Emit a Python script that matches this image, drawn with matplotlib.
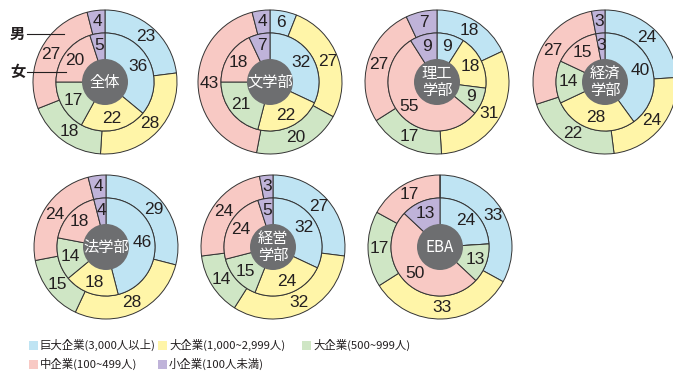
import matplotlib
matplotlib.use("Agg")
import matplotlib.pyplot as plt
from matplotlib.patches import Circle, Rectangle
import math

plt.rcParams['font.family'] = ['Noto Sans CJK JP', 'DejaVu Sans']

categories = ["巨大企業(3,000人以上)", "大企業(1,000~2,999人)", "大企業(500~999人)",
              "中企業(100~499人)", "小企業(100人未満)"]
colors = ["#bfe4f3", "#fff5a8", "#cfe6c5", "#f8c9c4", "#bfb3d9"]

groups = ["全体", "文学部", "理工\n学部", "経済\n学部", "法学部", "経営\n学部", "EBA"]
male = [
    [23, 28, 18, 27, 4],
    [6, 27, 20, 43, 4],
    [18, 31, 17, 27, 7],
    [24, 24, 22, 27, 3],
    [29, 28, 15, 24, 4],
    [27, 32, 14, 24, 3],
    [33, 33, 17, 17, 0],
]
female = [
    [36, 22, 17, 20, 5],
    [32, 22, 21, 18, 7],
    [9, 18, 9, 55, 9],
    [40, 28, 14, 15, 3],
    [46, 18, 14, 18, 4],
    [32, 24, 15, 24, 5],
    [24, 0, 13, 50, 13],
]

W, H = 673, 372
fig = plt.figure(figsize=(W / 100, H / 100), dpi=100)
ax = fig.add_axes([0, 0, 1, 1])

centers = [(105, 82), (270, 82), (437, 82), (605, 82),
           (106, 247), (273, 247), (440, 247)]
R_out, R_mid, R_in = 72, 49, 23
edge = dict(edgecolor="#333333", linewidth=0.7)


def put_labels(cx, cy, vals, r):
    cum = 0
    tot = sum(vals)
    for v in vals:
        if v > 0:
            mid = (cum + v / 2) / tot * 360
            a = math.radians(90 - mid)
            ax.text(cx + r * math.cos(a), cy + r * math.sin(a), str(v),
                    ha='center', va='center', fontsize=12.5, color="#231f20",
                    family=['Liberation Sans', 'DejaVu Sans'], zorder=8)
        cum += v


for (px, py), g, m, f in zip(centers, groups, male, female):
    cy = H - py
    cx = px
    ax.pie(m, colors=colors, radius=R_out, center=(cx, cy), startangle=90,
           counterclock=False, wedgeprops=dict(width=R_out - R_mid, **edge),
           frame=True)
    ax.pie(f, colors=colors, radius=R_mid, center=(cx, cy), startangle=90,
           counterclock=False, wedgeprops=dict(**edge), frame=True)
    ax.add_patch(Circle((cx, cy), R_in, facecolor="#6d6e70", edgecolor="none", zorder=5))
    ax.text(cx, cy, g, ha='center', va='center', color='white', fontsize=11,
            linespacing=0.95, zorder=6)
    put_labels(cx, cy, m, 61)
    put_labels(cx, cy, f, 37)

ax.set_xlim(0, W)
ax.set_ylim(0, H)
ax.set_aspect('equal')
ax.axis('off')

# 男 / 女 pointers
ax.text(10, H - 34, "男", ha='left', va='center', fontsize=11, fontweight='bold', color="#231f20")
ax.plot([27, 64], [H - 34, H - 34], color="#231f20", lw=0.8, zorder=7)
ax.text(10, H - 72, "女", ha='left', va='center', fontsize=11, fontweight='bold', color="#231f20")
ax.plot([27, 66], [H - 72, H - 72], color="#231f20", lw=0.8, zorder=7)

# legend
leg_pos = [(29, 345), (158, 345), (302, 345), (29, 364), (158, 364)]
for (lx, ly), c, t in zip(leg_pos, colors, categories):
    ax.add_patch(Rectangle((lx, H - ly - 4.5), 9, 9, facecolor=c, edgecolor='none'))
    ax.text(lx + 11, H - ly, t, ha='left', va='center', fontsize=8.2, color="#231f20")

fig.savefig("out.png", dpi=100)
